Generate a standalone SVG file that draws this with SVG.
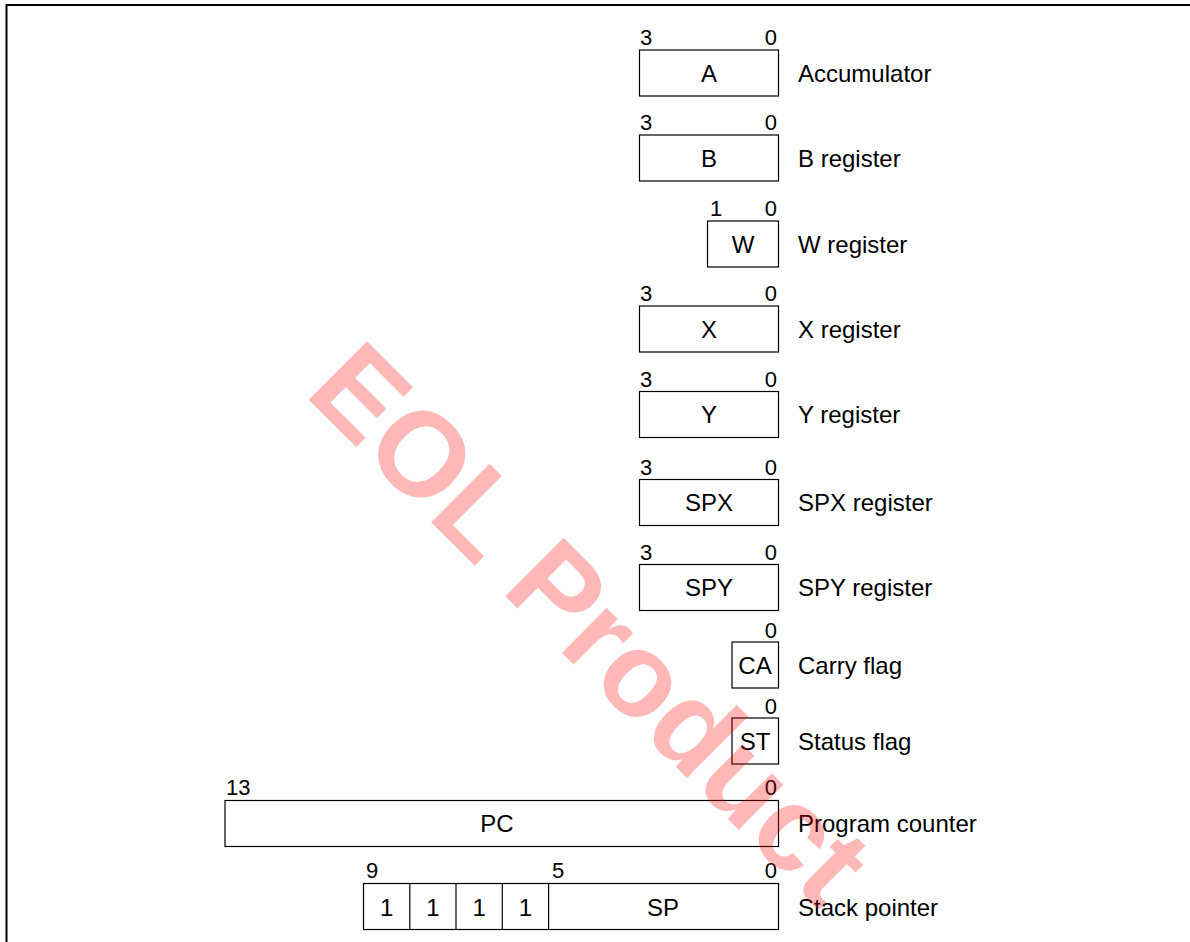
<svg xmlns="http://www.w3.org/2000/svg" width="1190" height="942" viewBox="0 0 1190 942">
<style>
.b{fill:#fff;stroke:#000;stroke-width:1.2}
.d{font-family:"Liberation Sans",Arial,sans-serif;font-size:22px;fill:#000}
.t{font-family:"Liberation Sans",Arial,sans-serif;font-size:24px;fill:#000;text-anchor:middle}
.l{font-family:"Liberation Sans",Arial,sans-serif;font-size:24px;fill:#000}
.r{text-anchor:end}
.wm{font-family:"Liberation Sans",Arial,sans-serif;font-size:120px;font-weight:bold;fill:#ff0000;fill-opacity:0.28}
</style>
<rect width="1190" height="942" fill="#fff"/>
<path d="M6.5,942 V5 H1190" fill="none" stroke="#000" stroke-width="2"/>
<g id="connectors"/>
<g id="reg-a">
<rect class="b" x="639.5" y="50" width="139" height="46"/>
<text class="d" x="640" y="45">3</text><text class="d r" x="777" y="45">0</text>
<text class="t" x="709" y="82">A</text><text class="l" x="798" y="82">Accumulator</text>
</g>
<g id="reg-b">
<rect class="b" x="639.5" y="135" width="139" height="46"/>
<text class="d" x="640" y="130">3</text><text class="d r" x="777" y="130">0</text>
<text class="t" x="709" y="167">B</text><text class="l" x="798" y="167">B register</text>
</g>
<g id="reg-w">
<rect class="b" x="707.5" y="221" width="71" height="46"/>
<text class="d" x="710" y="216">1</text><text class="d r" x="777" y="216">0</text>
<text class="t" x="743" y="253">W</text><text class="l" x="798" y="253">W register</text>
</g>
<g id="reg-x">
<rect class="b" x="639.5" y="306" width="139" height="46"/>
<text class="d" x="640" y="301">3</text><text class="d r" x="777" y="301">0</text>
<text class="t" x="709" y="338">X</text><text class="l" x="798" y="338">X register</text>
</g>
<g id="reg-y">
<rect class="b" x="639.5" y="391.5" width="139" height="46"/>
<text class="d" x="640" y="387">3</text><text class="d r" x="777" y="387">0</text>
<text class="t" x="709" y="423">Y</text><text class="l" x="798" y="423">Y register</text>
</g>
<g id="reg-spx">
<rect class="b" x="639.5" y="479.5" width="139" height="46"/>
<text class="d" x="640" y="475">3</text><text class="d r" x="777" y="475">0</text>
<text class="t" x="709" y="511">SPX</text><text class="l" x="798" y="511">SPX register</text>
</g>
<g id="reg-spy">
<rect class="b" x="639.5" y="564.5" width="139" height="46"/>
<text class="d" x="640" y="560">3</text><text class="d r" x="777" y="560">0</text>
<text class="t" x="709" y="596">SPY</text><text class="l" x="798" y="596">SPY register</text>
</g>
<g id="flag-ca">
<rect class="b" x="732" y="642" width="46.5" height="46"/>
<text class="d r" x="777" y="638">0</text>
<text class="t" x="755" y="674">CA</text><text class="l" x="798" y="674">Carry flag</text>
</g>
<g id="flag-st">
<rect class="b" x="732" y="718" width="46.5" height="46"/>
<text class="d r" x="777" y="714">0</text>
<text class="t" x="755" y="750">ST</text><text class="l" x="798" y="750">Status flag</text>
</g>
<g id="reg-pc">
<rect class="b" x="225" y="800.5" width="553.5" height="46"/>
<text class="d" x="226" y="795">13</text><text class="d r" x="777" y="795">0</text>
<text class="t" x="497" y="832">PC</text><text class="l" x="798" y="832">Program counter</text>
</g>
<g id="reg-sp">
<rect class="b" x="363.5" y="883.5" width="415" height="46"/>
<path d="M409.8,883.5 V929.5 M456,883.5 V929.5 M502.3,883.5 V929.5 M548.6,883.5 V929.5" stroke="#000" stroke-width="1.2"/>
<text class="d" x="366" y="878">9</text><text class="d" x="552" y="878">5</text><text class="d r" x="777" y="878">0</text>
<text class="t" x="386.6" y="916">1</text><text class="t" x="432.9" y="916">1</text><text class="t" x="479.1" y="916">1</text><text class="t" x="525.4" y="916">1</text>
<text class="t" x="663" y="916">SP</text><text class="l" x="798" y="916">Stack pointer</text>
</g>
<text class="wm" x="303" y="394" transform="rotate(45 303 394)">EOL Product</text>
</svg>
